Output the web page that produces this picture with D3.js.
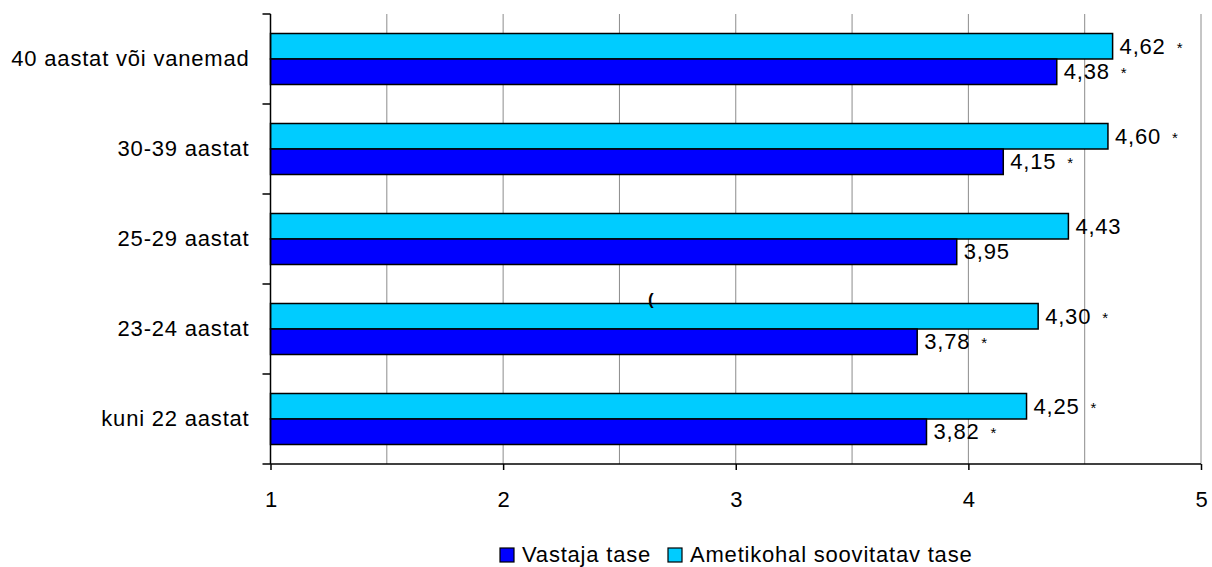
<!DOCTYPE html>
<html><head><meta charset="utf-8">
<script src="https://cdn.jsdelivr.net/npm/d3@7"></script>
<style>
body{margin:0;background:#fff;}
text{font-family:"Liberation Sans",Arial,sans-serif;fill:#000;}
</style></head>
<body><svg id="c" width="1212" height="567"></svg>
<script>
const categories = ["40 aastat või vanemad","30-39 aastat","25-29 aastat","23-24 aastat","kuni 22 aastat"];
const soovitatav = [4.62, 4.60, 4.43, 4.30, 4.25];
const vastaja = [4.38, 4.15, 3.95, 3.78, 3.82];
const soovitatavStar = [true, true, false, true, true];
const vastajaStar = [true, true, false, true, true];
const xTicks = [1,2,3,4,5];
const gridValues = [1.5,2,2.5,3,3.5,4,4.5,5];
const seriesNames = ["Vastaja tase","Ametikohal soovitatav tase"];
const colors = {dark:"#0000FF", light:"#00CCFF"};

const svg = d3.select("#c");
const L=270.5, R=1201, T=14, B=464;
const x = d3.scaleLinear().domain([1,5]).range([L,R]);
const y = d3.scaleBand().domain(categories).range([T,B]).padding(0);
const bw = y.bandwidth();
const pad = 19.5, bh = (bw - 2*pad)/2;
const FS = 22, LS = "0.8px";

// gridlines
svg.append("g").selectAll("line").data(gridValues).join("line")
  .attr("x1",d=>x(d)).attr("x2",d=>x(d)).attr("y1",T).attr("y2",B)
  .attr("stroke","#8c8c8c").attr("stroke-width",1);

// bars
const g = svg.append("g");
const fmt = v=>v.toFixed(2).replace(".",",");
categories.forEach((c,i)=>{
  const y0 = y(c)+pad;
  g.append("rect").attr("x",x(1)).attr("y",y0).attr("width",x(soovitatav[i])-x(1)).attr("height",bh)
    .attr("fill",colors.light).attr("stroke","#000").attr("stroke-width",1.5);
  g.append("rect").attr("x",x(1)).attr("y",y0+bh).attr("width",x(vastaja[i])-x(1)).attr("height",bh)
    .attr("fill",colors.dark).attr("stroke","#000").attr("stroke-width",1.5);
  const t1 = g.append("text").attr("x",x(soovitatav[i])+7).attr("y",y0+bh/2).attr("dy","0.34em")
    .attr("font-size",FS).attr("letter-spacing",LS).text(fmt(soovitatav[i]));
  if(soovitatavStar[i]) t1.append("tspan").attr("dx",11).attr("font-size",15).attr("dy","-0.05em").text("*");
  const t2 = g.append("text").attr("x",x(vastaja[i])+7).attr("y",y0+bh*1.5).attr("dy","0.34em")
    .attr("font-size",FS).attr("letter-spacing",LS).text(fmt(vastaja[i]));
  if(vastajaStar[i]) t2.append("tspan").attr("dx",11).attr("font-size",15).attr("dy","-0.05em").text("*");
});

// stray mark in original
svg.append("text").attr("x",648).attr("y",305).attr("font-size",17).attr("font-weight","bold").text("(");

// y axis
const yAxis = d3.axisLeft(y).tickSize(0).tickPadding(21);
const ya = svg.append("g").attr("transform",`translate(${L},0)`).call(yAxis);
ya.select(".domain").remove();
ya.selectAll("text").attr("font-size",FS).attr("letter-spacing",LS).attr("dy","0.34em")
  .attr("font-family","Liberation Sans, Arial, sans-serif").attr("fill","#000");
svg.append("line").attr("x1",L).attr("x2",L).attr("y1",T).attr("y2",B).attr("stroke","#000").attr("stroke-width",1.5);
const bounds = categories.map(c=>y(c)).concat([B]);
svg.append("g").selectAll("line").data(bounds).join("line")
  .attr("x1",L-8).attr("x2",L).attr("y1",d=>d).attr("y2",d=>d).attr("stroke","#000").attr("stroke-width",1.5);

// x axis
const xAxis = d3.axisBottom(x).tickValues(xTicks).tickSize(6).tickPadding(21).tickFormat(d3.format("d"));
const xa = svg.append("g").attr("transform",`translate(0,${B})`).call(xAxis);
xa.select(".domain").attr("stroke","#000").attr("stroke-width",1.5).attr("d",`M${L},0H${R}`);
xa.selectAll(".tick line").attr("stroke","#000").attr("stroke-width",1.5);
xa.selectAll("text").attr("font-size",FS).attr("font-family","Liberation Sans, Arial, sans-serif").attr("fill","#000");

// legend
const leg = svg.append("g");
const legItems = [{n:seriesNames[0],c:colors.dark,x:500},{n:seriesNames[1],c:colors.light,x:668}];
legItems.forEach(it=>{
  leg.append("rect").attr("x",it.x).attr("y",548).attr("width",14).attr("height",14)
    .attr("fill",it.c).attr("stroke","#000").attr("stroke-width",1.2);
  leg.append("text").attr("x",it.x+22).attr("y",562).attr("font-size",FS).attr("letter-spacing",LS).text(it.n);
});
</script></body></html>
